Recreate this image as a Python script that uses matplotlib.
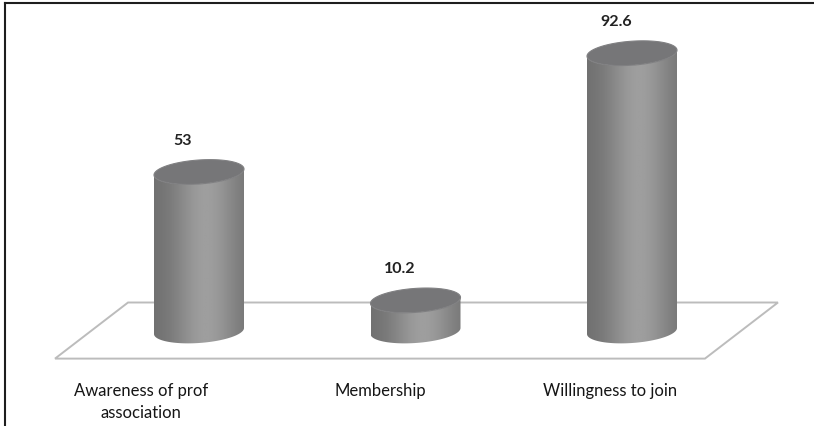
import numpy as np
import matplotlib
matplotlib.use("Agg")
import matplotlib.pyplot as plt
from matplotlib.patches import Polygon
from matplotlib.lines import Line2D

# ---- data -------------------------------------------------------------
categories = ["Awareness of prof\nassociation", "Membership", "Willingness to join"]
values = [53, 10.2, 92.6]
value_labels = ["53", "10.2", "92.6"]

# ---- figure / axes ----------------------------------------------------
W, H, DPI = 814, 427, 100
fig = plt.figure(figsize=(W / DPI, H / DPI), dpi=DPI)
fig.patch.set_facecolor("white")
ax = fig.add_axes([0, 0, 1, 1])
ax.set_axis_off()

# category spacing and value scale (pixels per unit)
PX_PER_CAT = 216.5
PX_PER_VAL = 3.0
X0_PX = 199.0          # pixel x of first category
BASE_PX = 332.0        # pixel y (from top) of value 0

xmin = -X0_PX / PX_PER_CAT
xmax = (W - X0_PX) / PX_PER_CAT
ymax = BASE_PX / PX_PER_VAL
ymin = -(H - BASE_PX) / PX_PER_VAL

# cylinder geometry in data units
A = 45.0 / PX_PER_CAT     # half width
B = 12.0 / PX_PER_VAL     # half height of the end ellipses
K = 3.0 / PX_PER_VAL      # tilt of the end ellipses


def ellipse_pts(cx, cy, t):
    return np.column_stack([cx + A * np.cos(t), cy + B * np.sin(t) + K * np.cos(t)])


# ---- floor ------------------------------------------------------------
floor_back = 9.5
floor_front = -9.2
floor_shift = 73 / PX_PER_CAT
fl_left = -0.665
fl_right = 2.337
floor = Polygon([[fl_left, floor_front], [fl_right, floor_front],
                 [fl_right + floor_shift, floor_back], [fl_left + floor_shift, floor_back]],
                closed=True, facecolor="white", edgecolor="#bcbcbc", lw=1.4, zorder=1)
ax.add_patch(floor)

# ---- cylinders --------------------------------------------------------
# horizontal shading profile across the body
gx = np.linspace(0, 1, 256)
shade = 0.43 + 0.19 * np.exp(-((gx - 0.58) / 0.36) ** 2)
shade = np.clip(shade, 0, 1)
grad = np.tile(shade, (2, 1))

for i, v in enumerate(values):
    cx = i
    t_front = np.linspace(np.pi, 2 * np.pi, 80)
    bottom = ellipse_pts(cx, 0, t_front)
    top = ellipse_pts(cx, v, t_front[::-1])
    body_xy = np.vstack([bottom, top])
    body = Polygon(body_xy, closed=True, facecolor="none", edgecolor="none", zorder=3)
    ax.add_patch(body)
    im = ax.imshow(grad, cmap="gray", vmin=0, vmax=1, aspect="auto",
                   extent=[cx - A, cx + A, -B - K, v + B + K],
                   interpolation="bilinear", zorder=3)
    im.set_clip_path(body)

    lid = Polygon(ellipse_pts(cx, v, np.linspace(0, 2 * np.pi, 120)), closed=True,
                  facecolor="#767678", edgecolor="#808082", lw=0.8, zorder=4)
    ax.add_patch(lid)

    ax.annotate(value_labels[i], xy=(cx, v), xytext=(-16, 32), textcoords="offset pixels",
                ha="center", va="center", fontsize=11.5, fontweight="bold",
                family=["Lato", "DejaVu Sans"], color="#222222", zorder=5)

ax.set_xlim(xmin, xmax)
ax.set_ylim(ymin, ymax)

# ---- category labels (each line centred on its own) -------------------
label_x_px = [141, 380, 610]
line_y_px = [391, 413]
for lx, name in zip(label_x_px, categories):
    for ly, line in zip(line_y_px, name.split("\n")):
        fig.text(lx / W, 1 - ly / H, line, ha="center", va="center",
                 fontsize=12, family=["Lato", "DejaVu Sans"], color="#151515")

# ---- outer frame (top and left only) ---------------------------------
fig.add_artist(Line2D([5 / W, 1], [1 - 4 / H, 1 - 4 / H], transform=fig.transFigure,
                      color="#1e1e1e", lw=1.5))
fig.add_artist(Line2D([5 / W, 5 / W], [0, 1 - 4 / H], transform=fig.transFigure,
                      color="#1e1e1e", lw=1.5))

fig.savefig("out.png", dpi=DPI, facecolor="white")
